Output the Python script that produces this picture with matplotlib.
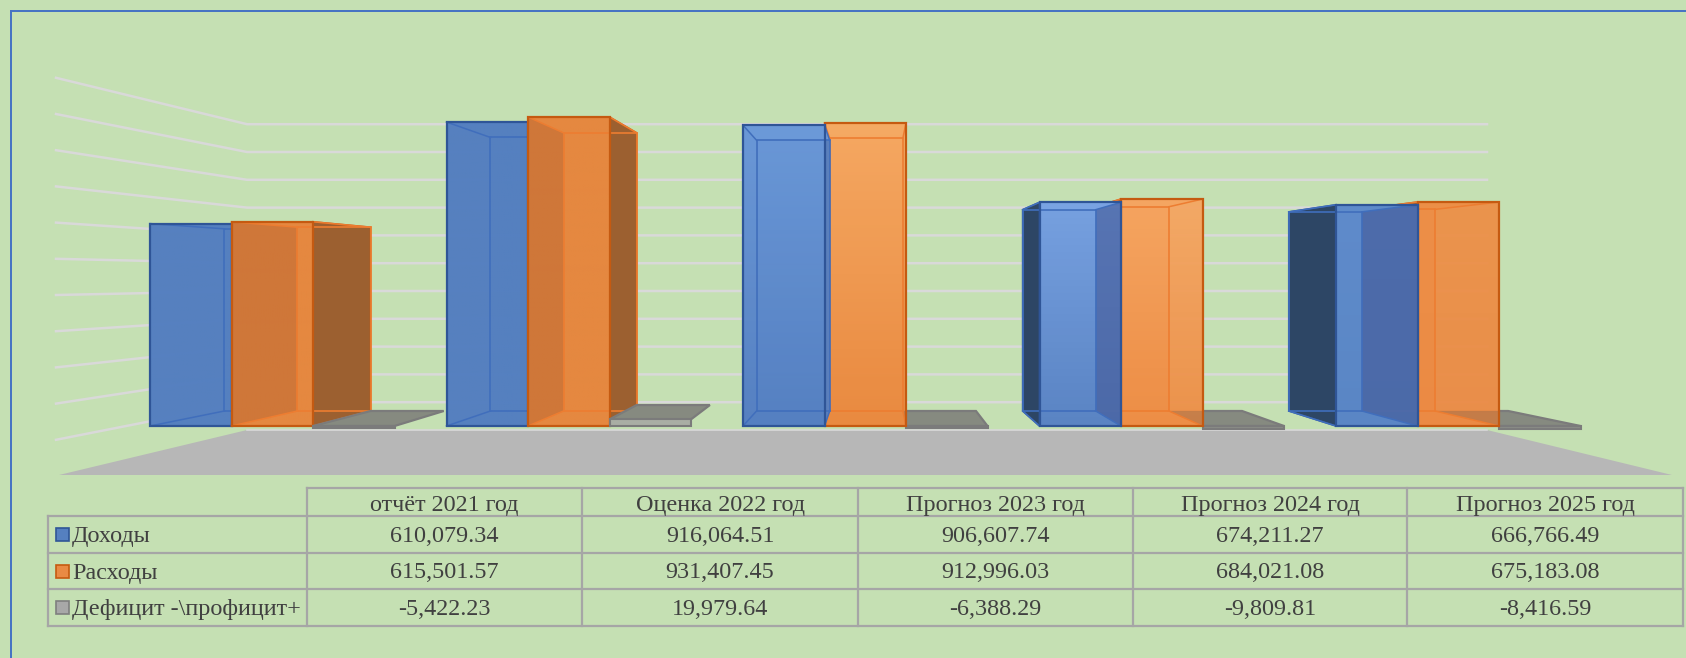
import numpy as np
import matplotlib
matplotlib.use("Agg")
import matplotlib.pyplot as plt
from matplotlib.colors import to_rgb
from matplotlib.patches import Polygon, Rectangle

categories = ["отчёт 2021 год", "Оценка 2022 год", "Прогноз 2023 год",
              "Прогноз 2024 год", "Прогноз 2025 год"]
series_names = ["Доходы", "Расходы", "Дефицит -\\профицит+"]
income = [610079.34, 916064.51, 906607.74, 674211.27, 666766.49]
spending = [615501.57, 931407.45, 912996.03, 684021.08, 675183.08]
balance = [-5422.23, 19979.64, -6388.29, -9809.81, -8416.59]
grid_steps = [1, 2, 3, 4, 5, 6, 7, 8, 9, 10, 11]

BG = "#C5E0B3"
TEXT = "#404040"
LINE = "#A6A6A6"

# per series: edge, inner edge, dark outer side
BLUE = dict(edge="#2F5597", inner="#406EBC", dark="#2C4462")
ORANGE = dict(edge="#C55A11", inner="#ED7D31", dark="#9A5F30")
GRAY = dict(edge="#7B7B7B", inner="#7B7B7B", dark="#808080")

# front face colours per group, top and bottom
blue_shades = [("#5580C0", "#5580C0"), ("#5580C0", "#5580C0"), ("#6C9ADA", "#5580C2"),
               ("#7AA4E4", "#5A84C4"), ("#5F8CCC", "#5A86C6")]
orange_shades = [("#E68840", "#E68840"), ("#E68840", "#E68840"), ("#F6AA64", "#EA8A40"),
                 ("#F6A662", "#EE8E46"), ("#EE9048", "#EC8A44")]

Y0 = 426
SCALE = 3.318e-4
BAR_W = 81.5
GROUP_X = 150
GROUP_STEP = 296.5


def to_back(x, y):
    # perspective step from the front of a bar to its back
    return 89.7 + 0.8975 * x, 27.6 + 0.9 * y


def gradient_face(ax, pts, top, bottom, alpha=0.92):
    pts = np.array(pts)
    c1, c2 = np.array(to_rgb(top)), np.array(to_rgb(bottom))
    t = np.linspace(0, 1, 64)[:, None]
    img = np.dstack([(c1 * (1 - t) + c2 * t)[:, None, :], np.full((64, 1, 1), alpha)])
    im = ax.imshow(img, extent=(pts[:, 0].min(), pts[:, 0].max(), pts[:, 1].max(), pts[:, 1].min()),
                   aspect="auto", zorder=ax.next_z(), interpolation="bilinear")
    clip = Polygon(pts, transform=ax.transData, fill=False, edgecolor="none")
    ax.add_patch(clip)
    im.set_clip_path(clip)


def poly(ax, pts, fc="none", ec="none", lw=1.0, alpha=None):
    p = Polygon(pts, closed=True, facecolor=fc, edgecolor=ec, lw=lw, alpha=alpha,
                zorder=ax.next_z(), joinstyle="miter")
    ax.add_patch(p)
    return p


def draw_bar(ax, x, value, style, top, bottom, neighbour=None):
    x2 = x + BAR_W
    y_top = Y0 - value * SCALE if value > 0 else Y0
    y_bot = Y0 if value > 0 else Y0 - value * SCALE
    bl, bty = to_back(x, y_top)
    br, _ = to_back(x2, y_top)
    _, bby = to_back(x, y_bot)

    back = [(bl, bty), (br, bty), (br, bby), (bl, bby)]
    front = [(x, y_top), (x2, y_top), (x2, y_bot), (x, y_bot)]
    left = [(x, y_top), (bl, bty), (bl, bby), (x, y_bot)]
    right = [(x2, y_top), (br, bty), (br, bby), (x2, y_bot)]
    base = bottom

    if style is GRAY:
        poly(ax, [(x, y_top), (x2, y_top), (br, bty), (bl, bty)], fc="#868A80", ec=style["edge"], lw=1.6)
        fc = "#A9AEA4" if value > 0 else "#8A8C86"
        poly(ax, front, fc=fc, ec=style["edge"], lw=1.5)
        return

    poly(ax, back, fc=base, alpha=0.96)
    poly(ax, [(x, y_top), (x2, y_top), (br, bty), (bl, bty)], fc=top, alpha=0.96)
    poly(ax, [(x, y_bot), (x2, y_bot), (br, bby), (bl, bby)], fc=base, alpha=0.96)

    # outer sides, only when they stick out properly
    if x - bl > 8:
        poly(ax, left, fc=style["dark"], ec=style["edge"], lw=1.2, alpha=0.97)
    if br - x2 > 8:
        poly(ax, right, fc=style["dark"], ec=style["edge"], lw=1.2, alpha=0.97)

    if bl > x:
        poly(ax, left, fc=base, alpha=0.9)
    gradient_face(ax, front, top, bottom, alpha=0.95 if style is ORANGE else 0.9)

    # faces seen through the front
    if x2 - br > 8 and style is BLUE:
        poly(ax, [(br, bty), (x2, y_top), (x2, y_bot), (br, bby)], fc="#3E5AA0", alpha=0.6)
    if bl > x and style is ORANGE:
        poly(ax, left, fc="#BE6A34", alpha=0.55)

    # the gray slab showing through the orange front
    if neighbour is not None:
        nx, nx2 = neighbour
        nl, _ = to_back(nx, Y0)
        nr, _ = to_back(nx2, Y0)
        tint = poly(ax, [(nx, Y0), (nx2, Y0), (nr, 411), (nl, 411)], fc="#6E5A4C", alpha=0.28)
        clip = Polygon(front, transform=ax.transData, fill=False, edgecolor="none")
        ax.add_patch(clip)
        tint.set_clip_path(clip)

    # inner lines
    poly(ax, back, ec=style["inner"], lw=1.2)
    for fx, fy, bx, by in [(x, y_top, bl, bty), (x2, y_top, br, bty), (x, y_bot, bl, bby), (x2, y_bot, br, bby)]:
        ax.plot([fx, bx], [fy, by], color=style["inner"], lw=1.1, zorder=ax.next_z())
    poly(ax, front, ec=style["edge"], lw=1.6)


def draw_table(ax):
    col_x = [48, 307, 582, 858, 1133, 1407, 1683]
    row_y = [488, 516, 553, 589, 626]
    font = dict(family=["Liberation Serif"], color=TEXT, fontsize=17.4, va="center", zorder=500)

    ax.plot([col_x[1], col_x[-1]], [row_y[0], row_y[0]], color=LINE, lw=1.6, zorder=490)
    for y in row_y[1:]:
        ax.plot([col_x[0], col_x[-1]], [y, y], color=LINE, lw=1.6, zorder=490)
    ax.plot([col_x[0], col_x[0]], [row_y[1], row_y[-1]], color=LINE, lw=1.6, zorder=490)
    for x in col_x[1:]:
        ax.plot([x, x], [row_y[0], row_y[-1]], color=LINE, lw=1.6, zorder=490)

    for j, name in enumerate(categories):
        ax.text((col_x[j + 1] + col_x[j + 2]) / 2, (row_y[0] + row_y[1]) / 2 + 3, name, ha="center", **font)

    rows = [income, spending, balance]
    keys = [("#5580C0", BLUE["edge"]), ("#E98A44", ORANGE["edge"]), ("#A8A8A8", "#7F7F7F")]
    for i, values in enumerate(rows):
        yc = (row_y[i + 1] + row_y[i + 2]) / 2
        ax.add_patch(Rectangle((55.5, yc - 6.5), 13, 13, facecolor=keys[i][0], edgecolor=keys[i][1], lw=1.2, zorder=500))
        ax.text(72, yc + 2, series_names[i], ha="left", **font)
        for j, v in enumerate(values):
            ax.text((col_x[j + 1] + col_x[j + 2]) / 2, yc + 2, f"{v:,.2f}", ha="center", **font)


fig = plt.figure(figsize=(16.86, 6.58), dpi=100, facecolor=BG)
ax = fig.add_axes([0, 0, 1, 1])
ax.set_facecolor(BG)
ax.axis("off")

z_counter = [10]


def next_z():
    z_counter[0] += 1
    return z_counter[0]


ax.next_z = next_z

# frame
ax.plot([11, 11], [658, 11], color="#4472C4", lw=1.4, zorder=1)
ax.plot([11, 1686], [11, 11], color="#4472C4", lw=1.4, zorder=1)

# walls and floor
for step in grid_steps:
    wall_y = 430 - step * 27.8
    side_y = 476 - step * 36.2
    ax.plot([56, 247, 1487], [side_y, wall_y, wall_y], color="#D9D9D9", lw=1.8, zorder=2,
            solid_joinstyle="miter")
ax.add_patch(Polygon([(59, 475), (1672, 475), (1487, 430), (247, 430)], facecolor="#B7B7B7",
                     edgecolor="none", zorder=3))
ax.plot([247, 1487], [430, 430], color="#D9D9D9", lw=1.2, zorder=3)

# bars, the ones furthest from the middle go first
for i in range(len(categories)):
    x0 = GROUP_X + i * GROUP_STEP
    gray_x = x0 + 2 * BAR_W
    if i < 2:
        draw_bar(ax, x0, income[i], BLUE, *blue_shades[i])
        draw_bar(ax, x0 + BAR_W, spending[i], ORANGE, *orange_shades[i])
        draw_bar(ax, gray_x, balance[i], GRAY, "#868A80", "#868A80")
    else:
        draw_bar(ax, gray_x, balance[i], GRAY, "#868A80", "#868A80")
        draw_bar(ax, x0 + BAR_W, spending[i], ORANGE, *orange_shades[i],
                 neighbour=(gray_x, gray_x + BAR_W))
        draw_bar(ax, x0, income[i], BLUE, *blue_shades[i])

draw_table(ax)

ax.set_xlim(0, 1686)
ax.set_ylim(658, 0)

fig.savefig("out.png", dpi=100, facecolor=BG)
